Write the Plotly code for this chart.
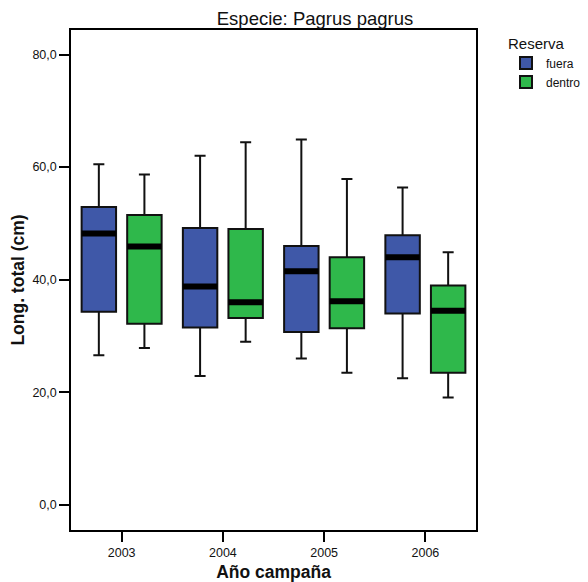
import plotly.graph_objects as go

years = ["2003", "2004", "2005", "2006"]

# Reserva = fuera
fuera_low = [26.6, 22.9, 26.0, 22.5]
fuera_q1 = [34.3, 31.5, 30.7, 34.0]
fuera_med = [48.2, 38.8, 41.5, 44.0]
fuera_q3 = [52.9, 49.2, 46.0, 47.9]
fuera_high = [60.5, 62.0, 64.9, 56.4]

# Reserva = dentro
dentro_low = [27.9, 29.0, 23.5, 19.1]
dentro_q1 = [32.2, 33.2, 31.4, 23.5]
dentro_med = [45.9, 36.0, 36.2, 34.5]
dentro_q3 = [51.5, 49.0, 44.0, 39.0]
dentro_high = [58.7, 64.4, 57.9, 44.9]

y_ticks = [0, 20, 40, 60, 80]

BLUE = "#3F58A8"
GREEN = "#2FB84B"
FONT = "Liberation Sans, Arial, sans-serif"

fig = go.Figure()

series = [
    ("fuera", BLUE, fuera_low, fuera_q1, fuera_med, fuera_q3, fuera_high),
    ("dentro", GREEN, dentro_low, dentro_q1, dentro_med, dentro_q3, dentro_high),
]

for name, color, lo, q1, med, q3, hi in series:
    fig.add_trace(go.Box(
        name=name, x=years, q1=q1, median=med, q3=q3,
        lowerfence=lo, upperfence=hi,
        fillcolor=color, line=dict(color="#111111", width=2),
        whiskerwidth=0.32, offsetgroup=name, boxpoints=False,
        hoverinfo="skip",
    ))

for name, color, lo, q1, med, q3, hi in series:
    fig.add_trace(go.Box(
        name=name + " mediana", x=years, q1=med, median=med, q3=med,
        lowerfence=med, upperfence=med,
        fillcolor="black", line=dict(color="black", width=6),
        whiskerwidth=0, offsetgroup=name, boxpoints=False,
        showlegend=False, hoverinfo="skip",
    ))

fig.update_layout(
    width=588, height=582,
    margin=dict(l=71, r=112, t=30, b=52, autoexpand=False),
    paper_bgcolor="white", plot_bgcolor="white",
    boxmode="group", boxgap=0.1, boxgroupgap=0.244,
    separators=",.",
    font=dict(family=FONT, color="#111111", size=12.5),
    title=dict(text="Especie: Pagrus pagrus", font=dict(size=18.5, color="#111111"),
               xref="container", x=315 / 588, xanchor="center",
               yref="container", y=1 - 19 / 582, yanchor="middle"),
    legend=dict(
        title=dict(text="Reserva", font=dict(size=15)),
        font=dict(size=12), xref="container", x=506 / 588, xanchor="left",
        yref="container", y=1 - 29 / 582, yanchor="top",
        itemwidth=30, tracegroupgap=0, bgcolor="rgba(0,0,0,0)",
    ),
    showlegend=True,
)

fig.update_xaxes(
    type="category", range=[-0.5, 3.5], automargin=False,
    showline=True, linecolor="black", linewidth=1.5, mirror=True,
    ticks="outside", ticklen=10, tickwidth=2, tickcolor="black",
    showgrid=False, zeroline=False,
    tickfont=dict(size=12.5),
    title=dict(text="<b>Año campaña</b>", font=dict(size=17.5), standoff=8),
)
fig.update_yaxes(
    range=[-4.44, 84.35], tickvals=y_ticks, tickformat=".1f", automargin=False,
    showline=True, linecolor="black", linewidth=1.5, mirror=True,
    ticks="outside", ticklen=10, tickwidth=2, tickcolor="black",
    showgrid=False, zeroline=False,
    tickfont=dict(size=12.5),
    title=dict(text="<b>Long. total (cm)</b>", font=dict(size=17.5), standoff=3),
)

fig.write_html("out.html")
